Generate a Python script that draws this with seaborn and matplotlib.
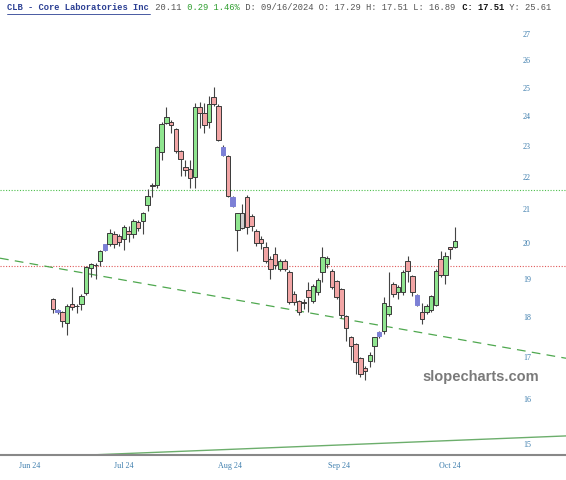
import matplotlib
matplotlib.use('Agg')
import matplotlib.pyplot as plt
from matplotlib.lines import Line2D
import numpy as np
import pandas as pd
import seaborn as sns

# OHLC, one row per trading day (Jun 7 .. Oct 9, 2024)
opens = [18.49, 18.15, 18.15, 17.87, 18.36, 18.31, 18.36, 18.65, 19.33, 19.42,
         19.52, 19.84, 20.00, 20.29, 20.23, 20.15, 20.38, 20.29, 20.64, 20.67,
         21.15, 21.78, 21.79, 22.84, 23.81, 23.84, 23.61, 22.87, 22.36, 22.29,
         22.04, 24.35, 24.15, 23.84, 24.70, 24.39, 23.00, 22.71, 21.42, 20.41,
         20.49, 21.42, 20.82, 20.38, 20.15, 19.92, 19.58, 19.72, 19.30, 19.52,
         19.22, 18.63, 18.44, 18.42, 18.73, 18.44, 18.68, 19.22, 19.44, 19.25,
         18.97, 18.76, 18.05, 17.52, 17.34, 17.00, 16.76, 16.93, 17.29, 17.54,
         17.67, 18.10, 18.89, 18.68, 18.68, 19.52, 19.11, 18.60, 18.15, 18.15,
         18.20, 18.33, 19.58, 19.14, 19.92, 19.94]
highs = [18.52, 18.24, 18.18, 18.36, 18.81, 18.36, 18.63, 19.40, 19.48, 19.47,
         19.85, 20.02, 20.44, 20.38, 20.30, 20.58, 20.55, 20.73, 20.70, 20.95,
         21.64, 21.85, 23.02, 23.85, 24.35, 23.90, 23.65, 22.90, 22.58, 22.58,
         24.49, 24.52, 24.49, 24.76, 25.07, 24.45, 23.05, 22.75, 21.45, 20.93,
         21.18, 21.48, 20.88, 20.44, 20.23, 20.06, 19.66, 19.92, 19.58, 19.58,
         19.27, 18.70, 18.47, 18.49, 18.94, 18.90, 19.05, 19.94, 19.66, 19.30,
         19.00, 18.80, 18.08, 17.55, 17.37, 17.03, 16.80, 17.15, 17.51, 17.66,
         18.55, 19.22, 18.94, 18.86, 19.27, 19.66, 19.15, 18.63, 18.39, 18.36,
         18.60, 19.30, 19.80, 19.78, 19.94, 20.52]
lows = [18.13, 18.10, 17.77, 17.57, 18.20, 18.13, 18.20, 18.60, 19.08, 19.03,
        19.40, 19.80, 19.95, 19.90, 19.95, 19.85, 20.06, 20.20, 20.40, 20.29,
        20.97, 21.42, 21.70, 22.58, 23.78, 23.47, 22.80, 22.07, 22.07, 21.69,
        21.69, 23.64, 23.47, 23.64, 24.40, 23.20, 22.70, 21.40, 21.10, 19.80,
        20.45, 20.30, 20.40, 19.95, 19.86, 19.47, 19.03, 19.30, 19.25, 19.25,
        18.36, 18.33, 18.07, 18.23, 18.15, 18.40, 18.60, 18.94, 19.35, 18.75,
        18.50, 18.00, 17.42, 16.95, 16.60, 16.55, 16.47, 16.79, 16.89, 17.50,
        17.60, 18.05, 18.55, 18.49, 18.60, 18.94, 18.57, 18.30, 17.85, 18.10,
        18.15, 18.30, 19.10, 18.89, 19.58, 19.90]
closes = [18.23, 18.20, 17.92, 18.31, 18.28, 18.30, 18.57, 19.36, 19.44, 19.41,
          19.80, 20.00, 20.32, 20.00, 20.06, 20.52, 20.29, 20.67, 20.47, 20.91,
          21.45, 21.76, 22.99, 23.78, 24.01, 23.74, 22.87, 22.61, 22.26, 22.01,
          24.35, 24.15, 23.74, 24.45, 24.45, 23.24, 22.74, 21.45, 21.12, 20.91,
          20.91, 20.50, 20.53, 20.03, 20.03, 19.52, 19.30, 19.41, 19.52, 19.30,
          18.41, 18.41, 18.15, 18.40, 18.55, 18.84, 19.00, 19.63, 19.61, 18.81,
          18.55, 18.07, 17.75, 17.29, 16.91, 16.60, 16.69, 17.08, 17.51, 17.64,
          18.39, 18.31, 18.63, 18.81, 19.22, 19.25, 18.68, 18.33, 17.97, 18.31,
          18.57, 19.25, 19.14, 19.66, 19.86, 20.11]
# candle colour class as drawn: up / down / blue / gray
kinds = ['d', 'b', 'd', 'u', 'd', 'd', 'u', 'u', 'u', 'd',
         'u', 'b', 'u', 'd', 'd', 'u', 'd', 'u', 'd', 'u',
         'u', 'd', 'u', 'u', 'u', 'd', 'd', 'd', 'd', 'd',
         'u', 'd', 'd', 'u', 'd', 'd', 'b', 'd', 'b', 'u',
         'g', 'd', 'd', 'd', 'd', 'd', 'd', 'd', 'u', 'd',
         'd', 'd', 'd', 'd', 'd', 'u', 'u', 'u', 'u', 'd',
         'd', 'd', 'd', 'd', 'd', 'd', 'd', 'u', 'u', 'b',
         'u', 'u', 'd', 'u', 'u', 'd', 'd', 'b', 'd', 'u',
         'u', 'u', 'd', 'u', 'd', 'u']

month_labels = ['Jun 24', 'Jul 24', 'Aug 24', 'Sep 24', 'Oct 24']
month_pos = [-5, 15, 37.5, 60.5, 84]
price_ticks = [15, 16, 17, 18, 19, 20, 21, 22, 23, 24, 25, 26, 27]

green_level = 21.62
red_level = 19.40
dash_trend = ([-11.2, 108.5], [19.61, 16.99])
solid_trend = ([7.7, 108.5], [14.79, 15.20])

df = pd.DataFrame({'open': opens, 'high': highs, 'low': lows,
                   'close': closes, 'kind': kinds})
df['idx'] = np.arange(len(df))

body_colors = {'u': '#8fe58f', 'd': '#f2a5a5', 'b': '#7c80d6', 'g': '#cfcfcf'}

sns.set_style('white')
fig = plt.figure(figsize=(5.66, 4.8), dpi=100)
ax = fig.add_axes([0, 25 / 480, 1, 435 / 480])
ax.set_yscale('log')
ax.set_xlim(-11.2, 108.5)
ax.set_ylim(14.79, 27.59)

# trend lines and levels
ax.axhline(green_level, color='#4cbf4c', ls=(0, (1, 1.5)), lw=0.8)
ax.axhline(red_level, color='#e05a5a', ls=(0, (1, 1.5)), lw=0.8)
trends = pd.DataFrame({'x': dash_trend[0], 'y': dash_trend[1]})
sns.lineplot(data=trends, x='x', y='y', ax=ax, color='#4fa84f', lw=0.9,
             dashes=False, linestyle=(0, (7, 5)))
trends2 = pd.DataFrame({'x': solid_trend[0], 'y': solid_trend[1]})
sns.lineplot(data=trends2, x='x', y='y', ax=ax, color='#6cae6c', lw=1.0)

# candles
ax.vlines(df['idx'], df['low'], df['high'], color='#444444', lw=0.8, zorder=3)
bottoms = np.minimum(df['open'], df['close'])
heights = np.maximum(np.abs(df['close'] - df['open']), 0.02)
cols = [body_colors[k] for k in df['kind']]
edges = ['#3a3a3a' if k in 'udg' else '#7c80d6' for k in df['kind']]
ax.bar(df['idx'], heights, bottom=bottoms, width=0.95, color=cols,
       edgecolor=edges, linewidth=0.7, zorder=4)

# axes styling
for s in ['top', 'left', 'right']:
    ax.spines[s].set_visible(False)
ax.spines['bottom'].set_color('#888888')
ax.spines['bottom'].set_linewidth(1.5)
ax.set_yticks([])
ax.yaxis.set_minor_locator(matplotlib.ticker.NullLocator())
ax.set_xticks(month_pos)
ax.set_xticklabels(month_labels)
ax.tick_params(axis='x', length=0, pad=5, labelsize=5.8, labelcolor='#3f7fae')
for lab in ax.get_xticklabels():
    lab.set_family('Liberation Serif')
ax.set_xlabel('')
ax.set_ylabel('')
for p in price_ticks:
    ax.text(0.931, p, str(p), transform=ax.get_yaxis_transform(), ha='center',
            va='center', fontsize=5.8, color='#3f7fae', family='Liberation Serif')

ax.text(0.85, 0.179, 'slopecharts.com', transform=ax.transAxes, ha='center',
        va='center', fontsize=10.5, fontweight='bold', color='#7a7a7a',
        family='Liberation Sans')

# header line, monospace pieces
cw = 5.29 / 566
x0 = 7 / 566
hy = 1 - 8 / 480
pieces = [
    ('CLB - Core Laboratories Inc', '#2b3f93', 'bold'),
    (' 20.11', '#555555', 'normal'),
    (' 0.29 1.46%', '#2f9e2f', 'normal'),
    (' D: 09/16/2024 O: 17.29 H: 17.51 L: 16.89', '#555555', 'normal'),
    (' C: 17.51', '#111111', 'bold'),
    (' Y: 25.61', '#555555', 'normal'),
]
n = 0
for txt, c, w in pieces:
    fig.text(x0 + n * cw, hy, txt, color=c, fontweight=w, fontsize=6.3,
             family='Liberation Mono', va='center', ha='left')
    n += len(txt)
fig.add_artist(Line2D([x0, x0 + 27 * cw], [hy - 6 / 480, hy - 6 / 480],
                      color='#2b3f93', lw=0.6))

fig.savefig('out.png', dpi=100)
